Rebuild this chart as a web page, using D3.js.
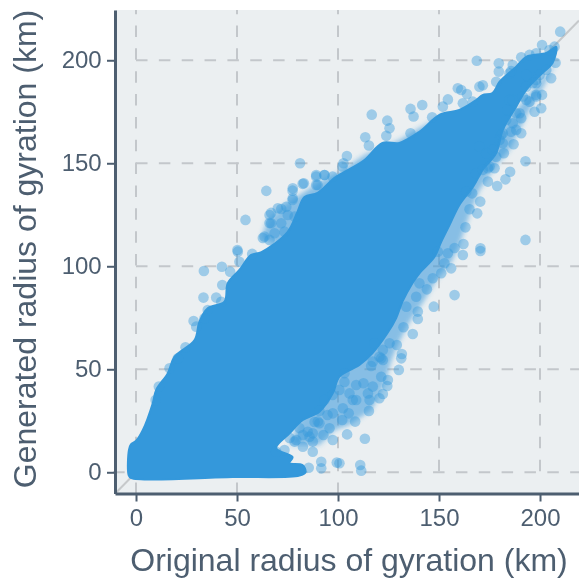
<!DOCTYPE html>
<html><head><meta charset="utf-8">
<script src="https://cdn.jsdelivr.net/npm/d3@7"></script>
<style>html,body{margin:0;padding:0;background:#fff}svg{display:block;filter:blur(0.6px)}text{font-family:"Liberation Sans",Arial,sans-serif}</style>
</head><body><svg id="c" width="579" height="581"><defs><filter id="soft" x="-10%" y="-10%" width="120%" height="120%"><feGaussianBlur stdDeviation="2.5"/></filter></defs></svg>
<script>
const xTicks=[0,50,100,150,200];
const yTicks=[0,50,100,150,200];
const xTitle="Original radius of gyration (km)";
const yTitle="Generated radius of gyration (km)";
// dense core outline (original km, generated km)
const coreX=[-2.4,-3.6,-3.5,-2.5,0.1,3.4,8.3,10,15.7,19.1,29,31.4,35.5,43.8,45.4,51.2,57,62.1,75,79.9,83.4,89.9,98.3,103.2,113.1,122,130.4,140.3,150.2,160.1,168.4,171.5,176.5,180,188.2,193.2,203.1,208,206.2,201.2,193.2,188.2,181.6,178.3,171.5,167.1,160.1,155.2,151.1,147.8,140.3,136.9,131.9,128.8,124.5,117.1,110.6,100.7,97.4,90.8,82.6,76,69.4,77.5,76,82.4,83.9,80.9,47.8];
const coreY=[-2.8,-1.5,10.8,13.5,15.3,20.5,33.5,40,48,56.1,64.2,73.1,79.6,82.8,91.7,98.2,105.5,106.9,116.6,126.4,133.6,135.6,142.9,145.8,151.6,159.9,159.9,165.3,173.5,175.9,180.7,183.1,184.1,189.6,196.9,201.7,203.5,206.5,198.7,193.8,185.6,177.5,166.2,155,146.7,139,129.8,120,111.9,104.7,96.6,91.9,82.8,74.9,67.6,57.9,52.1,46.4,38.3,29.4,25.4,18.9,11.7,7.4,4.5,3.5,0.1,-1.6,-2.3];
// translucent bands where overlapping fringe points merge
const lowerBandX=[76,90.8,98.3,105.7,116.6,123,126.5,129.5,135.4,142.8,148.8,156.2,160.1,165.1,170,178.5,184.9,189.8,194.8,202.2,208.7,179.9,80.9];
const lowerBandY=[13.3,13.3,20.5,23,30.2,42.4,54.5,61.8,73,83.6,93.4,102.1,110.3,124.9,137,149.2,156.5,166.2,175.9,188,200.2,166.2,25.4];
const upperBandX=[62.1,65.1,73.5,80.9,90.8,100.7,113.1,130.4,140.3,155.2,130.4,76];
const upperBandY=[113.7,122.5,129.8,134.6,140.9,145.8,154,161.3,167.1,174.9,132.2,107.9];
// individually visible points on the fringe
const pointX=[81.2,64.5,54.2,50.2,89.2,93.3,82.5,77.5,77.5,71.9,66.9,66.1,62.8,89.9,
210,201,207.2,204.7,168.7,179.6,179.6,190.7,186.5,207.7,205.5,171.7,170,178.3,159.3,163.8,141.7,135.9,137.4,116.7,124.4,125.5,113.5,115.3,123.9,135.9,146.6,154.4,151.9,104.4,102.7,192.8,192.8,201,200.6,197.3,190.7,186.9,182.1,185.2,182.9,178.8,174.2,177.5,170.4,166.4,165.1,168.9,163.1,162.1,170.5,157.7,
161.8,170.5,156,157.7,147.4,144,151.1,139.5,139.5,132.4,137,129.1,131.6,131.3,130.1,121.4,116.4,121.4,124.7,124.4,122.2,120.5,115.3,117.2,114.8,115.6,112.6,109,105.7,107.3,105.3,108.5,102.1,104.5,113.3,111,111.5,100.7,
33.6,42.5,51.2,46.6,42.7,33.4,39.7,42.2,35.5,28.5,33.9,29.8,24.5,20.7,16.6,11.3,9.7,50.4,57.5,
91.7,91.7,85.5,99.4,87.5,82.6,69.4,97.4,92.8,95.8,90,85,87.5,79.3,
186.5,189.9,193.2,198.1,186.5,181.6,190.7,183.8,188.2,180,173.4,171.7,178.3,175,170,163.5,168.4,193.2,196.4,199.8,203.1,194.8,198.1,185.7,198.1,
77.6,83.1,77.6,89.2,89.2,93.3,70.2,66.1,74.4,66.9,63.6,71.9,75.1,78.5,68.6,73.5,66.1,102.2,97.3,
85.9,78.5,97.4,102.4,109,103.2,90.8,87.5,82.6,90.8,93.3,97.3,73.5,100.7,103.2,94.8,88.4,80.9,76,
146.9,152.7,140.3,138.7,133.8,149.4,154.4,125.5,120.5,118,122.2,117.2,122.2,
184.9,188.2,198.1,194.8,191.5,183.3,185.7,180.8,181.6,176.6,174.2,161,161.8,166.7,193.2,198.1,184.9];
const pointY=[150,136.6,122.5,107.9,144.3,144.3,140,136.7,132.2,127.8,125.9,121,113.7,139.5,
213.9,207.4,206.6,205,199.8,198.5,194.5,201.5,197.7,198.8,191.3,187.9,187.2,189.6,186.4,183.6,178.3,176.4,172.7,173.6,170.7,167,162.6,158.6,163.3,164.6,172.3,181,177.5,153.5,150,151,112.8,183.2,176.7,175,164.6,159.2,154.9,145.9,142.2,139,141.1,147.6,131.4,135.4,127.7,125.7,118.9,110.8,108.7,108.9,
105.5,107.4,99,86,80.4,88.8,96.6,78,74.4,70.4,67.1,61.8,57.4,55.3,49.7,55.3,51.6,46.4,44.8,41.9,38,35.9,29.8,41.6,38.3,35.1,43.2,42.4,38.3,35.1,28.6,24.6,25.4,18.4,16.3,3.5,0.8,4.4,
97.7,99.8,102.2,97.4,90.9,84.8,84.8,82.8,78.8,73.4,74.8,70.7,60.7,55.3,50.5,41.6,35.1,107.1,106,
5.1,1.9,2.2,4.7,10,12.4,10,15.7,18.1,21.4,24.6,19.7,14.9,15.7,
180.7,174.3,180.7,183.2,169.4,164.6,171.9,175.9,166.2,161.3,154.9,146.8,153.2,148.4,158.1,136.2,145.1,187.2,188.9,192.9,195.3,202.6,203.4,194.8,190.4,
137.9,140.3,133,143.5,139.5,144.3,128.2,124.9,128.9,120.9,114.4,120.9,124.9,124.1,116,116.8,112.8,148.4,143.5,
17.3,14.9,28.6,31.1,35.1,48.1,23.8,18.9,18.1,29.8,35.1,37.5,10.8,40,43.8,27.8,24.4,21.5,16.7,
94.2,101.5,91.7,85.2,80.4,107.1,106.3,62.6,56.1,62.6,59.4,53.7,54.5,
180.7,174.3,182.4,179.9,182.4,171,165.3,163.7,159.7,156.5,147.6,185.6,179.1,179.9,192.9,188.9,193.7];

const ink="#4d5e70", blue="#3498db";
const L=115,B=493.5,T=10,R=579;
const x=d3.scaleLinear().domain([-10.4,219.3]).range([L,R]);
const y=d3.scaleLinear().domain([-10.3,224.4]).range([B,T]);
const svg=d3.select("#c");
svg.append("rect").attr("x",L).attr("y",T).attr("width",R-L).attr("height",B-T).attr("fill","#ebeff1");
const dash="11.5 11.35";
const g=svg.append("g").attr("stroke","#c3c7cb").attr("stroke-width",2).attr("stroke-dasharray",dash).attr("fill","none");
yTicks.forEach(t=>{
  const x0=t===0?x(0)-22.85:x(0);
  g.append("line").attr("x1",x0).attr("x2",R).attr("y1",y(t)).attr("y2",y(t));
});
xTicks.forEach(t=>{
  const y0=t<=100?494:494-22.85;
  g.append("line").attr("x1",x(t)).attr("x2",x(t)).attr("y1",y0).attr("y2",T);
});
const dom=[-10.4,219.3];
svg.append("line").attr("x1",x(dom[0])).attr("y1",y(dom[0])).attr("x2",x(dom[1])).attr("y2",y(dom[1]))
  .attr("stroke","#c6c9cb").attr("stroke-width",2);
const outline=d3.line().x(d=>x(d[0])).y(d=>y(d[1])).curve(d3.curveLinearClosed);
const smooth=d3.line().x(d=>x(d[0])).y(d=>y(d[1])).curve(d3.curveCatmullRomClosed.alpha(0.5));
svg.append("path").attr("d",outline(d3.zip(lowerBandX,lowerBandY))).attr("fill",blue).attr("fill-opacity",0.55).attr("filter","url(#soft)");
svg.append("path").attr("d",outline(d3.zip(upperBandX,upperBandY))).attr("fill",blue).attr("fill-opacity",0.55).attr("filter","url(#soft)");
svg.append("path").attr("d",smooth(d3.zip(coreX,coreY))).attr("fill",blue).attr("stroke",blue).attr("stroke-width",2).attr("stroke-linejoin","round");
svg.append("g").selectAll("circle").data(d3.zip(pointX,pointY)).join("circle")
  .attr("cx",d=>x(d[0])).attr("cy",d=>y(d[1])).attr("r",5.3).attr("fill",blue).attr("fill-opacity",0.42);
// axes
const ax=svg.append("g").attr("transform",`translate(0,${B})`).call(d3.axisBottom(x).tickValues(xTicks).tickSize(8).tickSizeOuter(0).tickPadding(7.5));
const ay=svg.append("g").attr("transform",`translate(${L},0)`).call(d3.axisLeft(y).tickValues(yTicks).tickSize(8).tickSizeOuter(0).tickPadding(5.3));
[ax,ay].forEach(a=>{
  a.select(".domain").attr("stroke",ink).attr("stroke-width",3);
  a.selectAll(".tick line").attr("stroke",ink).attr("stroke-width",2);
  a.selectAll("text").attr("fill",ink).attr("font-size",24).attr("font-family",'"Liberation Sans",Arial,sans-serif');
});
svg.append("text").attr("x",349).attr("y",571).attr("text-anchor","middle").attr("font-size",32).attr("fill",ink).text(xTitle);
svg.append("text").attr("transform","translate(36,249) rotate(-90)").attr("text-anchor","middle").attr("font-size",32).attr("fill",ink).text(yTitle);
</script></body></html>
